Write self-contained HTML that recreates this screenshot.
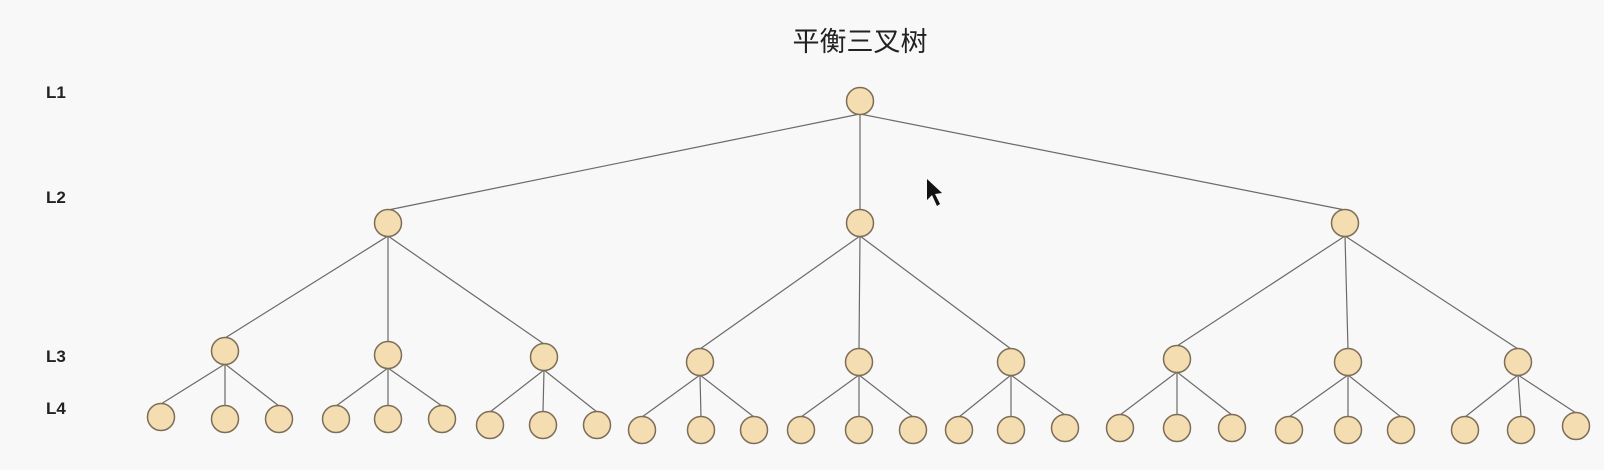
<!DOCTYPE html>
<html><head><meta charset="utf-8"><style>
html,body{margin:0;padding:0;background:#f8f8f8;}
svg{display:block}
</style></head><body>
<svg width="1604" height="470" viewBox="0 0 1604 470" xmlns="http://www.w3.org/2000/svg">
<rect width="1604" height="470" fill="#f8f8f8"/>
<text x="860" y="51" text-anchor="middle" font-family="'Liberation Sans','Noto Sans CJK SC',sans-serif" font-size="27" fill="#222">平衡三叉树</text>
<g font-family="'Liberation Sans',sans-serif" font-weight="bold" font-size="17" fill="#222">
<text x="46" y="98">L1</text><text x="46" y="203">L2</text><text x="46" y="362">L3</text><text x="46" y="414">L4</text>
</g>
<g stroke="#6a6a6a" stroke-width="1.2" fill="none" id="lines"></g>
<g fill="#f4deb1" stroke="#7d6d58" stroke-width="1.5" id="nodes"></g>
<path d="M927 179 L927 200 L932 195 L937 206 L940 204 L935 194 L942 193 Z" fill="#111"/>
<script>
var L1=[[860,101]];
var L2=[[388,223],[860,223],[1345,223]];
var L3=[[225,351],[388,355],[544,357],[700,362],[859,362],[1011,362],[1177,359],[1348,362],[1518,362]];
var L4=[[161,417],[225,419],[279,419],[336,419],[388,419],[442,419],[490,425],[543,425],[597,425],[642,430],[701,430],[754,430],[801,430],[859,430],[913,430],[959,430],[1011,430],[1065,428],[1120,428],[1177,428],[1232,428],[1289,430],[1348,430],[1401,430],[1465,430],[1521,430],[1576,426]];
var ns="http://www.w3.org/2000/svg",lg=document.getElementById('lines'),ng=document.getElementById('nodes');
function ln(a,b){var l=document.createElementNS(ns,'line');l.setAttribute('x1',a[0]);l.setAttribute('y1',a[1]+13);l.setAttribute('x2',b[0]);l.setAttribute('y2',b[1]-13);lg.appendChild(l);}
L2.forEach(function(p){ln(L1[0],p)});
L3.forEach(function(p,i){ln(L2[Math.floor(i/3)],p)});
L4.forEach(function(p,i){ln(L3[Math.floor(i/3)],p)});
[].concat(L1,L2,L3,L4).forEach(function(p){var c=document.createElementNS(ns,'circle');c.setAttribute('cx',p[0]);c.setAttribute('cy',p[1]);c.setAttribute('r',13.5);ng.appendChild(c);});
</script>
</svg>
</body></html>
